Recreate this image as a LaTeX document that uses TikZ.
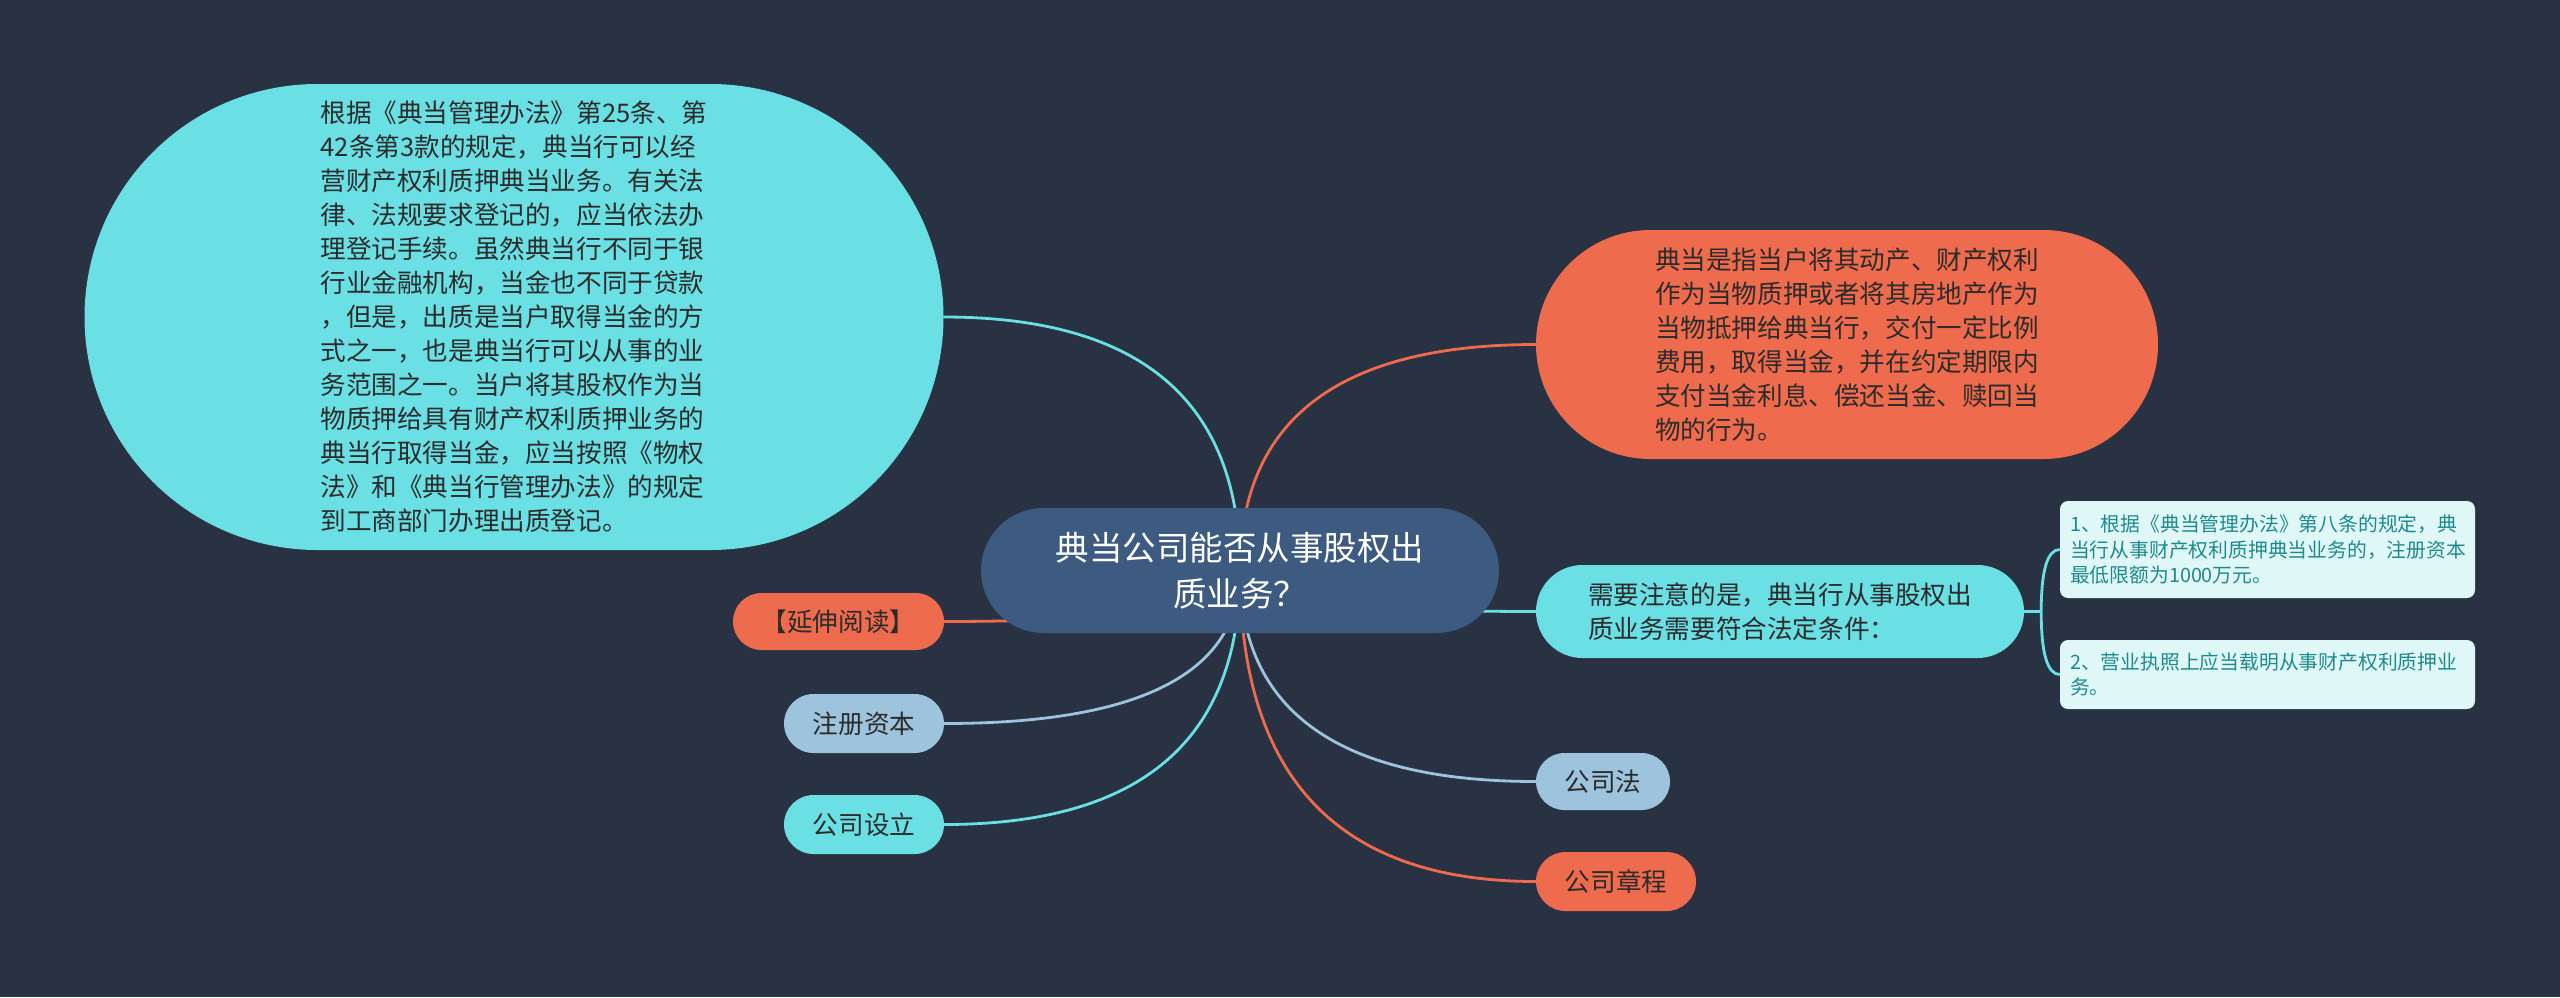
\documentclass[tikz,border=0pt]{standalone}
\usepackage{fontspec}
\setmainfont{Noto Sans CJK SC}
\usetikzlibrary{calc}
\pgfdeclarelayer{bg}
\pgfsetlayers{bg,main}
\definecolor{bgc}{HTML}{283242}
\definecolor{cenc}{HTML}{3D5A80}
\definecolor{cyanc}{HTML}{6ADFE4}
\definecolor{orac}{HTML}{EF6B4D}
\definecolor{bluec}{HTML}{9EC3DD}
\definecolor{boxc}{HTML}{E0F7F8}
\definecolor{boxt}{HTML}{1E8A8C}
\definecolor{txtc}{HTML}{2B2B2B}
\tikzset{
  pill/.style n args={3}{shape=rectangle, inner sep=0pt, minimum width=#1pt, minimum height=#2pt, rounded corners=#3pt, text=txtc},
  bodyfont/.style={font=\fontsize{25.6}{34}\selectfont, align=left},
  smallbox/.style={shape=rectangle, fill=boxc, rounded corners=8pt, text=boxt, inner xsep=10pt, inner ysep=0pt,
     text width=395pt, align=left, font=\fontsize{19.8}{25.5}\selectfont},
  link/.style={line width=2.8pt},
  qcurve/.style={to path={let \p1=(\tikztostart), \p2=(\tikztotarget) in
     .. controls ($(\p1)!0.6667!(\x2,\y1)$) and ($(\p2)!0.6667!(\x2,\y1)$) .. (\tikztotarget)}}
}
\begin{document}
\begin{tikzpicture}[x=1pt,y=-1pt]
\useasboundingbox (0,0) rectangle (2560,997);
\begin{pgfonlayer}{bg}
\fill[bgc] (0,0) rectangle (2560,997);
\end{pgfonlayer}

\node[pill={518}{125}{62.5}, fill=cenc, text=white, align=center, font=\fontsize{33.5}{46}\selectfont] (C) at (1240,570.5)
  {典当公司能否从事股权出\\质业务？};

\node[pill={859}{466}{233}, fill=cyanc, bodyfont] (L1) at (514,317)
  {根据《典当管理办法》第25条、第\\
   42条第3款的规定，典当行可以经\\
   营财产权利质押典当业务。有关法\\
   律、法规要求登记的，应当依法办\\
   理登记手续。虽然典当行不同于银\\
   行业金融机构，当金也不同于贷款\\
   ，但是，出质是当户取得当金的方\\
   式之一，也是典当行可以从事的业\\
   务范围之一。当户将其股权作为当\\
   物质押给具有财产权利质押业务的\\
   典当行取得当金，应当按照《物权\\
   法》和《典当行管理办法》的规定\\
   到工商部门办理出质登记。};

\node[pill={622}{229}{114.5}, fill=orac, bodyfont] (R1) at (1847,344.5)
  {典当是指当户将其动产、财产权利\\
   作为当物质押或者将其房地产作为\\
   当物抵押给典当行，交付一定比例\\
   费用，取得当金，并在约定期限内\\
   支付当金利息、偿还当金、赎回当\\
   物的行为。};

\node[pill={488}{93}{46.5}, fill=cyanc, bodyfont] (R2) at (1780,611.5)
  {需要注意的是，典当行从事股权出\\质业务需要符合法定条件：};

\node[smallbox, minimum height=97pt] (B1) at (2267.5,549.5)
  {1、根据《典当管理办法》第八条的规定，典\\当行从事财产权利质押典当业务的，注册资本\\最低限额为1000万元。};
\node[smallbox, minimum height=69pt] (B2) at (2267.5,674.5)
  {2、营业执照上应当载明从事财产权利质押业\\务。};

\node[pill={134}{57}{28.5}, fill=bluec, bodyfont] (R3) at (1603,781.5) {公司法};
\node[pill={160}{59}{29.5}, fill=orac, bodyfont] (R4) at (1616,881.5) {公司章程};
\node[pill={211}{57}{28.5}, fill=orac, bodyfont] (L2) at (838.5,621.5) {【延伸阅读】};
\node[pill={160}{59}{29.5}, fill=bluec, bodyfont] (L3) at (864,723.5) {注册资本};
\node[pill={160}{59}{29.5}, fill=cyanc, bodyfont] (L4) at (864,824.5) {公司设立};

\coordinate (J) at ($(R2.east)+(17,0)$);

\begin{pgfonlayer}{bg}
\draw[link, cyanc] (L1.east) to[qcurve] (C.center);
\draw[link, orac] (R1.west) to[qcurve] (C.center);
\draw[link, cyanc] (R2.west) to[qcurve] (C.center);
\draw[link, bluec] (R3.west) to[qcurve] (C.center);
\draw[link, orac] (R4.west) to[qcurve] (C.center);
\draw[link, orac] (L2.east) to[qcurve] (C.center);
\draw[link, bluec] (L3.east) to[qcurve] (C.center);
\draw[link, cyanc] (L4.east) to[qcurve] (C.center);
\draw[link, cyanc] (R2.east) -- (J);
\draw[link, cyanc] (B1.west) to[qcurve] (J);
\draw[link, cyanc] (B2.west) to[qcurve] (J);
\end{pgfonlayer}
\end{tikzpicture}
\end{document}
